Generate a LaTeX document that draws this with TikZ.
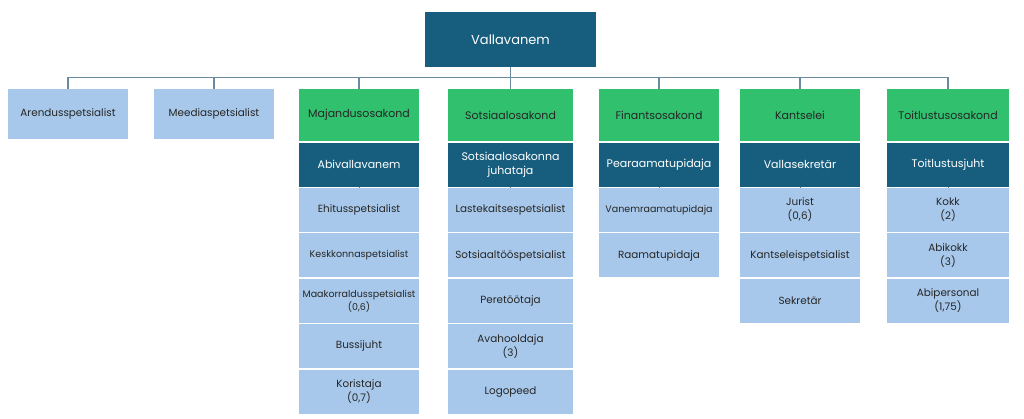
\documentclass[tikz,border=0pt]{standalone}
\usepackage{fontspec}
\setmainfont{Poppins}
\usetikzlibrary{positioning}
\definecolor{leadblue}{HTML}{175E7E}
\definecolor{headgreen}{HTML}{30C06E}
\definecolor{staffblue}{HTML}{A7C8EA}
\definecolor{linegray}{HTML}{6A8AA0}

\begin{document}
\begin{tikzpicture}[x = 1pt, y = -1pt, node distance = 1pt,
    box/.style = {minimum width = 120pt, minimum height = 44pt, inner sep = 1pt,
                  align = center, text = black!85, font = \fontsize{10.4}{14}\selectfont},
    head/.style = {box, fill = headgreen, minimum height = 52pt, font = \fontsize{11}{14}\selectfont},
    lead/.style = {box, fill = leadblue, text = white, font = \fontsize{11}{14}\selectfont},
    staff/.style = {box, fill = staffblue},
    small/.style = {font = \fontsize{9.5}{13}\selectfont},
    conn/.style = {draw = linegray, line width = 1.2pt}]
  \useasboundingbox (0,0) rectangle (1024,419);
  \node[box, fill = leadblue, text = white, minimum width = 171pt, minimum height = 55pt,
        font = \fontsize{13}{15}\selectfont] (vallavanem) at (510.5,39.5) {Vallavanem};

  \node[staff, minimum height = 50pt, anchor = north] (arendus) at (68,89) {Arendusspetsialist};
  \node[staff, minimum height = 50pt, anchor = north] (meedia) at (214,89) {Meediaspetsialist};

  \node[head, anchor = north] (majandus) at (359,89) {Majandusosakond};
  \node[lead] (abivallavanem) [below = of majandus] {Abivallavanem};
  \node[staff] (ehitus) [below = of abivallavanem] {Ehitusspetsialist};
  \node[staff, small] (keskkond) [below = of ehitus] {Keskkonnaspetsialist};
  \node[staff, small] (maakorraldus) [below = of keskkond] {Maakorraldusspetsialist\\(0,6)};
  \node[staff] (bussijuht) [below = of maakorraldus] {Bussijuht};
  \node[staff] (koristaja) [below = of bussijuht] {Koristaja\\(0,7)};

  \node[head, anchor = north, minimum width = 125pt] (sotsiaal) at (510.5,89) {Sotsiaalosakond};
  \node[lead, minimum width = 125pt] (juhataja) [below = of sotsiaal] {Sotsiaalosakonna\\juhataja};
  \node[staff, minimum width = 125pt] (lastekaitse) [below = of juhataja] {Lastekaitsespetsialist};
  \node[staff, minimum width = 125pt] (sotsiaaltoo) [below = of lastekaitse] {Sotsiaaltööspetsialist};
  \node[staff, minimum width = 125pt] (peretootaja) [below = of sotsiaaltoo] {Peretöötaja};
  \node[staff, minimum width = 125pt] (avahooldaja) [below = of peretootaja] {Avahooldaja\\(3)};
  \node[staff, minimum width = 125pt] (logopeed) [below = of avahooldaja] {Logopeed};

  \node[head, anchor = north] (finants) at (659,89) {Finantsosakond};
  \node[lead] (pearaamatupidaja) [below = of finants] {Pearaamatupidaja};
  \node[staff, small] (vanemraamatupidaja) [below = of pearaamatupidaja] {Vanemraamatupidaja};
  \node[staff] (raamatupidaja) [below = of vanemraamatupidaja] {Raamatupidaja};

  \node[head, anchor = north] (kantselei) at (800,89) {Kantselei};
  \node[lead] (vallasekretar) [below = of kantselei] {Vallasekretär};
  \node[staff] (jurist) [below = of vallasekretar] {Jurist\\(0,6)};
  \node[staff] (kantseleispetsialist) [below = of jurist] {Kantseleispetsialist};
  \node[staff] (sekretar) [below = of kantseleispetsialist] {Sekretär};

  \node[head, anchor = north, minimum width = 122pt] (toitlustus) at (948,89) {Toitlustusosakond};
  \node[lead, minimum width = 122pt] (toitlustusjuht) [below = of toitlustus] {Toitlustusjuht};
  \node[staff, minimum width = 122pt] (kokk) [below = of toitlustusjuht] {Kokk\\(2)};
  \node[staff, minimum width = 122pt] (abikokk) [below = of kokk] {Abikokk\\(3)};
  \node[staff, minimum width = 122pt] (abipersonal) [below = of abikokk] {Abipersonal\\(1,75)};

  \foreach \n in {arendus, meedia, majandus, sotsiaal, finants, kantselei, toitlustus}
    \draw[conn] (vallavanem.south) -- ++(0,10) -| (\n.north);
  \foreach \a/\b in {abivallavanem/ehitus, juhataja/lastekaitse, pearaamatupidaja/vanemraamatupidaja,
                     vallasekretar/jurist, toitlustusjuht/kokk}
    \draw[conn, line width = 0.6pt] (\a.south) -- (\b.north);
\end{tikzpicture}
\end{document}
